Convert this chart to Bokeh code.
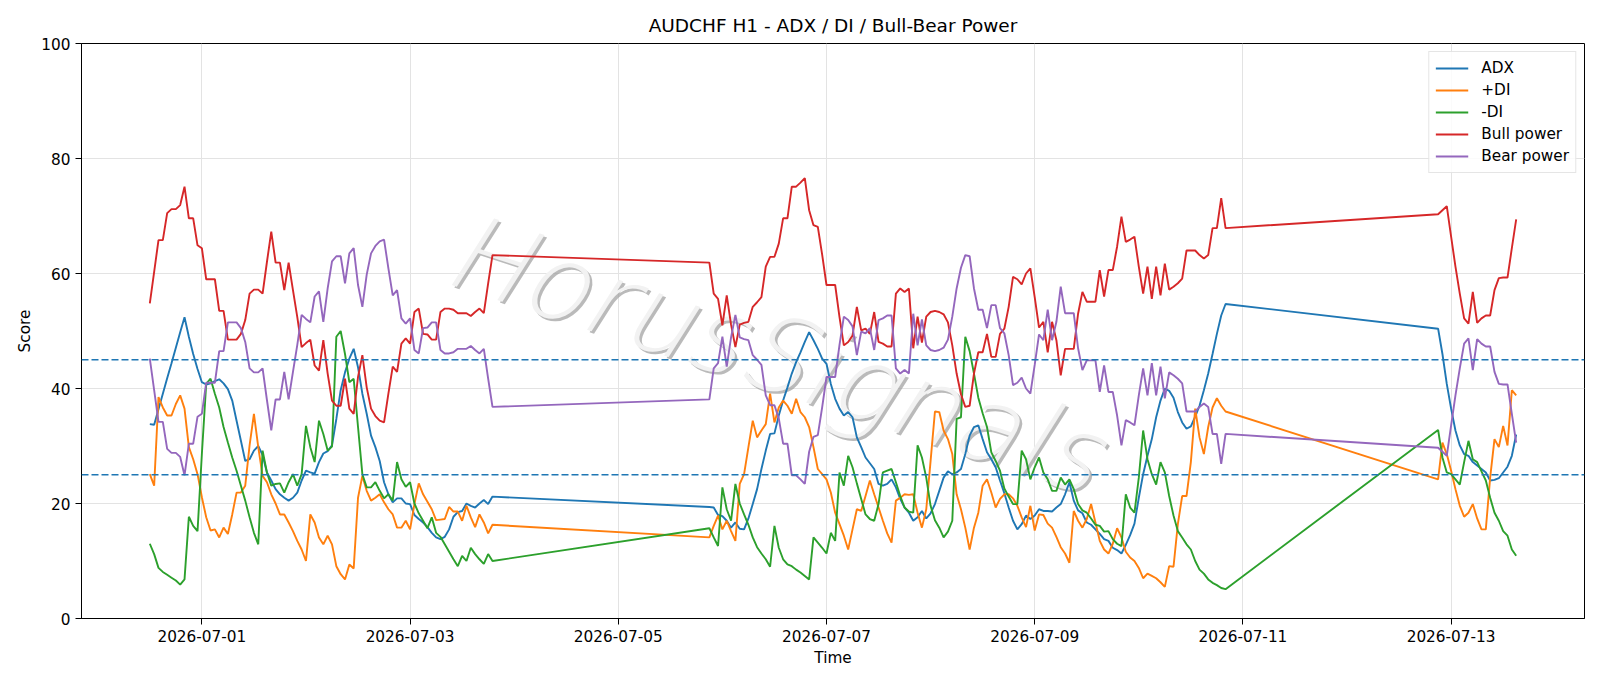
import numpy as np
import pandas as pd
from bokeh.plotting import figure
from bokeh.models import (ColumnDataSource, Span, Legend, LegendItem, DatetimeTickFormatter,
                          FixedTicker, Range1d, Label)
from bokeh.embed import file_html
from bokeh.resources import INLINE

TITLE = "AUDCHF H1 - ADX / DI / Bull-Bear Power"
SEGMENT_STARTS = ["2026-06-30 12:00", "2026-07-05 21:00", "2026-07-12 21:00"]
SEGMENT_LENGTHS = [80, 120, 19]
X_TICKS = ["2026-07-01", "2026-07-03", "2026-07-05", "2026-07-07",
           "2026-07-09", "2026-07-11", "2026-07-13"]
Y_TICKS = [0, 20, 40, 60, 80, 100]
THRESHOLDS = [45, 25]

ADX = [
    33.8, 33.7, 36.4, 39.1, 41.8, 44.4, 47.1, 49.8, 52.4, 49.0,
    46.0, 43.4, 41.1, 40.7, 40.9, 41.3, 41.6, 40.9, 39.9, 37.9,
    34.4, 30.9, 27.4, 27.7, 29.2, 30.0, 28.4, 25.4, 24.0, 22.5,
    21.6, 21.0, 20.5, 21.0, 21.9, 24.0, 25.7, 25.4, 25.2, 27.2,
    28.7, 29.1, 30.1, 34.7, 39.7, 42.8, 45.2, 46.9, 43.7, 39.1,
    35.6, 31.8, 29.8, 27.4, 23.7, 21.6, 20.2, 20.9, 20.9, 20.0,
    19.9, 18.0, 17.3, 16.7, 15.9, 14.9, 14.1, 13.8, 14.2, 15.5,
    17.7, 18.5, 18.7, 20.0, 19.6, 19.3, 20.0, 20.6, 19.9, 21.2,
    19.4, 19.3, 18.0, 17.8, 17.0, 15.8, 16.7, 15.6, 15.5, 17.4,
    19.9, 22.5, 26.0, 29.2, 32.1, 32.2, 35.3, 37.9, 40.2, 42.6,
    44.6, 46.3, 48.1, 49.8, 48.4, 46.9, 45.2, 44.3, 40.8, 38.2,
    36.5, 35.3, 35.9, 35.0, 31.5, 29.8, 28.0, 27.0, 26.0, 23.4,
    23.1, 23.4, 24.2, 22.8, 20.8, 19.3, 18.4, 17.0, 17.6, 18.7,
    17.4, 18.3, 19.9, 22.2, 24.5, 25.6, 25.1, 25.4, 26.0, 28.6,
    31.8, 33.3, 33.6, 31.2, 28.9, 27.7, 26.3, 24.0, 21.8, 19.3,
    17.0, 15.5, 16.4, 17.9, 17.3, 17.9, 19.0, 18.7, 18.7, 18.6,
    19.3, 19.9, 21.6, 23.7, 20.5, 18.8, 18.3, 16.7, 16.3, 15.5,
    14.7, 13.8, 13.5, 12.3, 11.9, 11.3, 12.8, 14.5, 16.5, 21.0,
    25.1, 28.3, 31.2, 35.0, 37.9, 40.0, 39.6, 38.4, 35.9, 34.1,
    33.0, 33.4, 35.1, 37.0, 39.7, 42.6, 46.0, 49.5, 52.7, 54.7,
    50.4, 46.0, 40.8, 36.5, 32.7, 30.1, 28.6, 28.3, 27.2, 26.6,
    26.0, 25.4, 24.0, 24.1, 24.4, 25.4, 26.4, 28.3, 32.0,
]

PLUS_DI = [
    25.1, 23.1, 38.5, 36.7, 35.3, 35.3, 37.3, 38.8, 36.5, 29.8,
    27.7, 25.1, 21.1, 17.6, 15.3, 15.5, 14.1, 15.8, 14.7, 18.1,
    21.9, 21.9, 23.1, 30.1, 35.6, 29.8, 24.8, 23.7, 21.6, 20.0,
    18.1, 18.1, 16.7, 15.2, 13.5, 12.0, 10.0, 18.1, 16.7, 14.1,
    12.9, 14.4, 12.9, 9.1, 7.7, 6.8, 9.4, 8.7, 21.0, 24.8,
    22.2, 20.5, 21.0, 21.6, 20.2, 19.0, 18.1, 15.8, 15.8, 17.0,
    15.5, 19.9, 23.5, 21.6, 20.3, 19.0, 17.1, 17.2, 17.3, 19.4,
    18.6, 18.6, 17.0, 19.6, 17.6, 15.9, 18.1, 16.7, 14.8, 16.3,
    14.1, 16.1, 17.9, 15.5, 17.0, 15.2, 13.5, 23.4, 25.1, 29.8,
    34.4, 31.5, 32.7, 33.8, 39.1, 34.1, 36.7, 37.9, 37.0, 35.6,
    38.2, 35.9, 35.0, 33.3, 29.8, 26.0, 25.1, 24.2, 21.9, 18.4,
    16.4, 14.4, 12.0, 15.5, 19.0, 18.7, 21.3, 24.0, 21.6, 19.3,
    17.0, 14.8, 13.2, 20.5, 21.0, 21.6, 21.5, 21.6, 18.4, 15.8,
    19.0, 27.4, 36.0, 35.9, 32.7, 31.2, 28.6, 21.6, 19.0, 15.8,
    12.0, 15.8, 18.4, 23.1, 24.2, 21.9, 19.3, 20.8, 21.6, 21.6,
    20.9, 19.6, 17.6, 15.9, 19.6, 15.3, 18.1, 18.0, 16.5, 15.8,
    14.2, 12.4, 11.3, 9.7, 18.7, 17.0, 15.8, 17.3, 19.9, 16.7,
    13.5, 12.0, 11.3, 13.0, 15.7, 14.1, 11.6, 10.6, 10.0, 8.8,
    7.0, 7.8, 7.4, 7.0, 6.3, 5.5, 9.1, 9.0, 16.4, 21.3,
    21.3, 27.2, 36.5, 31.5, 28.6, 33.3, 36.7, 38.3, 37.0, 36.0,
    24.2, 30.6, 28.6, 25.7, 22.5, 19.6, 17.7, 18.4, 19.9, 17.4,
    15.5, 15.5, 24.5, 31.2, 29.8, 33.5, 30.1, 39.7, 38.8,
]

MINUS_DI = [
    13.0, 11.2, 8.8, 8.1, 7.6, 7.1, 6.6, 5.9, 6.8, 17.7,
    16.1, 15.2, 28.6, 40.8, 41.7, 39.1, 36.7, 33.3, 30.6, 28.0,
    25.7, 23.1, 20.5, 17.6, 14.9, 12.9, 29.2, 25.4, 23.1, 23.4,
    23.5, 21.9, 23.7, 25.1, 23.1, 25.1, 33.5, 29.8, 27.2, 34.4,
    32.1, 29.2, 29.9, 49.0, 50.0, 46.0, 41.1, 41.7, 33.3, 25.1,
    22.8, 22.8, 23.7, 22.2, 20.9, 21.6, 20.5, 27.2, 24.2, 22.9,
    23.7, 20.0, 18.3, 17.0, 15.7, 17.6, 14.9, 14.2, 12.9, 11.6,
    10.3, 9.1, 10.9, 10.0, 12.3, 11.2, 10.3, 9.5, 11.2, 10.0,
    15.7, 14.1, 12.6, 22.8, 19.0, 17.0, 23.4, 20.0, 18.1, 16.3,
    14.1, 12.4, 11.3, 10.3, 9.0, 16.1, 12.3, 10.3, 9.4, 9.1,
    8.5, 8.0, 7.4, 6.8, 14.1, 13.2, 12.3, 11.3, 14.9, 13.5,
    25.4, 23.1, 28.3, 26.3, 23.5, 20.8, 18.1, 17.3, 17.0, 19.9,
    25.4, 25.7, 26.0, 23.7, 21.3, 19.3, 18.6, 18.4, 30.1, 28.0,
    24.5, 19.6, 17.1, 15.8, 14.1, 15.1, 17.0, 34.7, 35.0, 49.0,
    46.5, 42.6, 38.4, 35.7, 33.3, 28.9, 27.4, 25.7, 22.6, 21.2,
    19.9, 19.9, 29.2, 27.7, 24.2, 26.3, 28.0, 25.4, 24.2, 22.2,
    22.2, 24.5, 23.3, 24.2, 22.5, 19.9, 18.8, 18.4, 17.4, 16.3,
    16.1, 15.1, 15.2, 13.8, 13.0, 12.6, 21.6, 19.3, 18.4, 24.5,
    32.7, 27.7, 25.1, 23.3, 27.2, 25.4, 21.3, 17.9, 15.2, 14.1,
    12.9, 12.0, 10.0, 8.5, 7.8, 6.8, 6.2, 5.8, 5.3, 5.1,
    32.8, 28.0, 25.4, 25.1, 24.2, 23.3, 27.2, 30.9, 27.7, 27.2,
    25.6, 24.0, 21.0, 18.4, 17.0, 15.2, 14.4, 12.0, 10.9,
]

BULL_POWER = [
    54.8, 60.3, 65.8, 65.8, 70.5, 71.2, 71.2, 71.9, 75.1, 69.6,
    69.6, 64.9, 64.4, 59.0, 59.0, 59.0, 53.5, 53.5, 48.5, 48.5,
    48.5, 49.5, 51.9, 56.5, 57.2, 57.2, 56.5, 62.0, 67.3, 61.9,
    61.9, 57.1, 61.9, 57.1, 52.4, 47.2, 47.9, 48.5, 44.0, 43.1,
    48.4, 42.6, 37.9, 37.0, 37.0, 41.7, 36.5, 35.6, 42.0, 45.8,
    40.2, 36.5, 35.2, 34.4, 34.1, 39.1, 43.8, 42.9, 47.8, 48.7,
    47.8, 53.3, 53.9, 49.5, 49.4, 48.5, 48.5, 53.3, 53.9, 53.9,
    53.7, 53.1, 53.1, 53.1, 52.6, 53.3, 53.9, 53.1, 58.3, 63.2,
    61.9, 56.5, 55.6, 51.0, 56.2, 51.1, 47.2, 51.1, 51.4, 51.6,
    54.2, 55.0, 55.9, 61.2, 62.9, 62.9, 65.2, 69.6, 69.6, 75.1,
    75.1, 75.8, 76.6, 71.0, 68.4, 68.1, 63.3, 58.0, 58.0, 58.0,
    52.4, 47.5, 48.1, 49.2, 54.2, 50.1, 50.4, 49.5, 53.3, 48.1,
    47.8, 47.3, 47.3, 56.5, 57.4, 56.8, 57.4, 47.0, 52.5, 48.0,
    52.5, 53.3, 53.5, 53.3, 52.9, 51.5, 47.5, 42.6, 39.0, 36.8,
    37.0, 42.6, 46.3, 46.3, 49.5, 45.5, 45.5, 49.5, 50.4, 54.2,
    59.4, 59.0, 58.1, 60.0, 60.9, 55.9, 50.6, 51.6, 46.3, 51.6,
    48.4, 42.3, 46.9, 46.9, 46.9, 53.0, 56.8, 55.1, 55.1, 55.1,
    60.6, 56.0, 60.6, 60.6, 64.7, 69.9, 65.5, 65.9, 66.4, 61.2,
    56.5, 61.2, 55.6, 61.2, 56.2, 61.7, 57.2, 57.7, 58.3, 59.1,
    64.0, 64.0, 64.0, 63.2, 62.6, 63.2, 67.9, 67.9, 73.1, 67.9,
    70.3, 71.0, 71.7, 66.4, 61.2, 56.5, 52.2, 51.3, 56.8, 51.4,
    52.2, 52.7, 52.7, 57.1, 59.2, 59.3, 59.3, 64.4, 69.4,
]

BEAR_POWER = [
    45.2, 39.7, 34.2, 34.2, 29.5, 28.8, 28.8, 28.1, 24.9, 30.4,
    30.4, 35.1, 35.6, 41.0, 41.0, 41.0, 46.5, 46.5, 51.5, 51.5,
    51.5, 50.5, 48.1, 43.5, 42.8, 42.8, 43.5, 38.0, 32.7, 38.1,
    38.1, 42.9, 38.1, 42.9, 47.6, 52.8, 52.1, 51.5, 56.0, 56.9,
    51.6, 57.4, 62.1, 63.0, 63.0, 58.3, 63.5, 64.4, 58.0, 54.2,
    59.8, 63.5, 64.8, 65.6, 65.9, 60.9, 56.2, 57.1, 52.2, 51.3,
    52.2, 46.7, 46.1, 50.5, 50.6, 51.5, 51.5, 46.7, 46.1, 46.1,
    46.3, 46.9, 46.9, 46.9, 47.4, 46.7, 46.1, 46.9, 41.7, 36.8,
    38.1, 43.5, 44.4, 49.0, 43.8, 48.9, 52.8, 48.9, 48.6, 48.4,
    45.8, 45.0, 44.1, 38.8, 37.1, 37.1, 34.8, 30.4, 30.4, 24.9,
    24.9, 24.2, 23.4, 29.0, 31.6, 31.9, 36.7, 42.0, 42.0, 42.0,
    47.6, 52.5, 51.9, 50.8, 45.8, 49.9, 49.6, 50.5, 46.7, 51.9,
    52.2, 52.7, 52.7, 43.5, 42.6, 43.2, 42.6, 53.0, 47.5, 52.0,
    47.5, 46.7, 46.5, 46.7, 47.1, 48.5, 52.5, 57.4, 61.0, 63.2,
    63.0, 57.4, 53.7, 53.7, 50.5, 54.5, 54.5, 50.5, 49.6, 45.8,
    40.6, 41.0, 41.9, 40.0, 39.1, 44.1, 49.4, 48.4, 53.7, 48.4,
    51.6, 57.7, 53.1, 53.1, 53.1, 47.0, 43.2, 44.9, 44.9, 44.9,
    39.4, 44.0, 39.4, 39.4, 35.3, 30.1, 34.5, 34.1, 33.6, 38.8,
    43.5, 38.8, 44.4, 38.8, 43.8, 38.3, 42.8, 42.3, 41.7, 40.9,
    36.0, 36.0, 36.0, 36.8, 37.4, 36.8, 32.1, 32.1, 26.9, 32.1,
    29.7, 29.0, 28.3, 33.6, 38.8, 43.5, 47.8, 48.7, 43.2, 48.6,
    47.8, 47.3, 47.3, 42.9, 40.8, 40.7, 40.7, 35.6, 30.6,
]

SERIES = [
    ("ADX", ADX, "#1f77b4"),
    ("+DI", PLUS_DI, "#ff7f0e"),
    ("-DI", MINUS_DI, "#2ca02c"),
    ("Bull power", BULL_POWER, "#d62728"),
    ("Bear power", BEAR_POWER, "#9467bd"),
]

FONT = "DejaVu Sans"
TICK_FS = "15.3px"


def ms(ts):
    return pd.Timestamp(ts).value / 1e6


times = pd.DatetimeIndex(np.concatenate([
    pd.date_range(s, periods=n, freq="h").values
    for s, n in zip(SEGMENT_STARTS, SEGMENT_LENGTHS)
]))

data = {"t": times}
for i, (name, vals, color) in enumerate(SERIES):
    data[f"s{i}"] = vals
src = ColumnDataSource(data)

t0 = ms(times[0])
t1 = ms(times[-1])
pad = (t1 - t0) * 0.05

p = figure(width=1600, height=686, x_axis_type="datetime",
           x_range=Range1d(t0 - pad, t1 + pad), y_range=Range1d(0, 100),
           output_backend="svg", toolbar_location=None, title=TITLE)
p.min_border_left = 81
p.min_border_right = 16
p.min_border_top = 43
p.min_border_bottom = 68
p.background_fill_color = "white"
p.border_fill_color = "white"
p.outline_line_color = "black"
p.outline_line_width = 1
p.outline_line_alpha = 1

p.title.align = "center"
p.title.text_font = FONT
p.title.text_font_size = "18.5px"
p.title.text_font_style = "normal"
p.title.text_color = "black"
p.title.standoff = 16

p.xaxis.ticker = FixedTicker(ticks=[ms(t) for t in X_TICKS])
p.xaxis.formatter = DatetimeTickFormatter(
    days="%Y-%m-%d", months="%Y-%m-%d", hours="%Y-%m-%d", years="%Y-%m-%d")
p.yaxis.ticker = FixedTicker(ticks=Y_TICKS)
p.xaxis.axis_label = "Time"
p.yaxis.axis_label = "Score"
for ax in (p.xaxis[0], p.yaxis[0]):
    ax.major_label_text_font = FONT
    ax.major_label_text_font_size = TICK_FS
    ax.major_label_text_color = "black"
    ax.axis_label_text_font = FONT
    ax.axis_label_text_font_size = TICK_FS
    ax.axis_label_text_font_style = "normal"
    ax.axis_label_text_color = "black"
    ax.major_tick_in = 0
    ax.major_tick_out = 6
    ax.major_tick_line_color = "black"
    ax.minor_tick_line_color = None
    ax.axis_line_color = "black"
    ax.major_label_standoff = 5
p.xaxis[0].axis_label_standoff = 4
p.yaxis[0].axis_label_standoff = 4

p.xgrid.grid_line_color = "#e3e3e3"
p.ygrid.grid_line_color = "#e3e3e3"
p.xgrid.grid_line_width = 1
p.ygrid.grid_line_width = 1

# watermark
wm_x = ms("2026-07-06 12:00")
wm_y = 46.0
wm_font = "'DejaVu Sans Light', 'DejaVu Sans'"
shadow = Label(x=wm_x, y=wm_y, text="HorusSignals", angle=-0.32, angle_units="rad",
               text_align="center", text_baseline="middle", text_font=wm_font,
               text_font_size="105px", text_font_style="italic",
               text_color="#9c9c9c", text_alpha=0.7, x_offset=2.5, y_offset=-2.5,
               level="underlay")
front = Label(x=wm_x, y=wm_y, text="HorusSignals", angle=-0.32, angle_units="rad",
              text_align="center", text_baseline="middle", text_font=wm_font,
              text_font_size="105px", text_font_style="italic",
              text_color="#f2f2f2", text_alpha=1.0, level="underlay")
p.add_layout(shadow)
p.add_layout(front)

for val in THRESHOLDS:
    p.add_layout(Span(location=val, dimension="width", line_color="#1f77b4",
                      line_dash="7 3", line_width=1.4))

items = []
for i, (name, vals, color) in enumerate(SERIES):
    r = p.line("t", f"s{i}", source=src, line_color=color, line_width=1.9)
    items.append(LegendItem(label=name, renderers=[r]))

legend = Legend(items=items, location="top_right")
legend.label_text_font = FONT
legend.label_text_font_size = TICK_FS
legend.label_text_color = "black"
legend.glyph_width = 33
legend.glyph_height = 20
legend.label_height = 20
legend.spacing = 2
legend.padding = 6
legend.margin = 8
legend.label_standoff = 13
legend.border_line_color = "#cccccc"
legend.border_line_width = 1
legend.background_fill_alpha = 0.85
p.add_layout(legend)

open("out.html", "w").write(file_html(p, INLINE))
